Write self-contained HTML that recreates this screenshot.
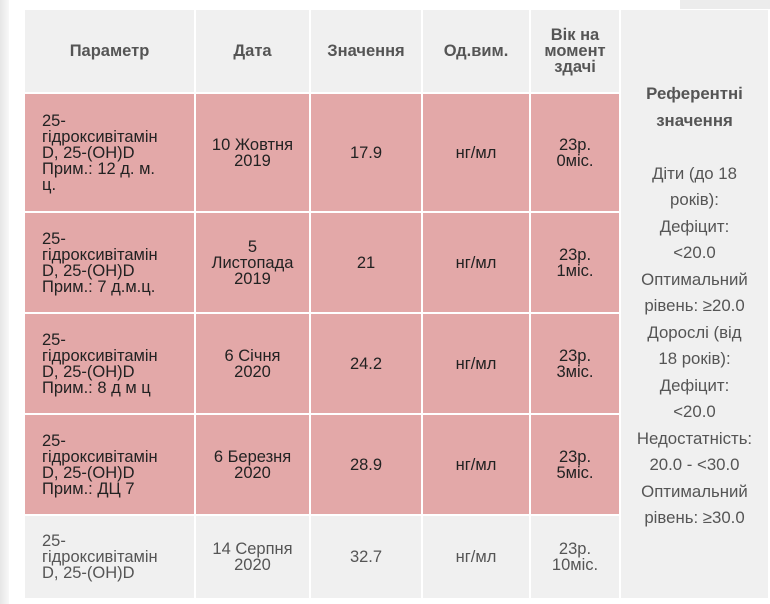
<!DOCTYPE html>
<html><head><meta charset="utf-8"><style>
*{margin:0;padding:0;box-sizing:border-box}
body{width:770px;height:604px;background:#fff;position:relative;overflow:hidden;font-family:"Liberation Sans",Arial,sans-serif}
.c{position:absolute;display:flex;align-items:center;justify-content:center;text-align:center;font-size:16.5px;line-height:16px;color:#222}
.h{background:#f0f0f0;color:#555;font-weight:bold}
.p{background:#e3a8a8}
.g{background:#f0f0f0;color:#555}
.l{justify-content:flex-start;text-align:left;padding-left:17px}
</style></head><body>
<div style="position:absolute;left:0;top:0;width:9px;height:604px;background:linear-gradient(90deg,#e6e6e6,#f8f8f8)"></div>
<div style="position:absolute;left:680px;top:0;width:90px;height:9px;background:#ececec"></div>

<div class="c h" style="left:25px;top:10px;width:169px;height:82px">Параметр</div>
<div class="c h" style="left:196px;top:10px;width:113px;height:82px">Дата</div>
<div class="c h" style="left:311px;top:10px;width:110px;height:82px">Значення</div>
<div class="c h" style="left:423px;top:10px;width:106px;height:82px">Од.вим.</div>
<div class="c h" style="left:531px;top:10px;width:88px;height:82px">Вік на<br>момент<br>здачі</div>
<div class="c g" style="left:621px;top:10px;width:147px;height:588px;font-size:16.8px;line-height:26.5px;color:#555;align-items:flex-start;padding-top:71px"><div><b>Референтні<br>значення</b><br><br>Діти (до 18<br>років):<br>Дефіцит:<br>&lt;20.0<br>Оптимальний<br>рівень: ≥20.0<br>Дорослі (від<br>18 років):<br>Дефіцит:<br>&lt;20.0<br>Недостатність:<br>20.0 - &lt;30.0<br>Оптимальний<br>рівень: ≥30.0</div></div>

<div class="c p l" style="left:25px;top:94px;width:169px;height:117px">25-<br>гідроксивітамін<br>D, 25-(OH)D<br>Прим.: 12 д. м.<br>ц.</div>
<div class="c p" style="left:196px;top:94px;width:113px;height:117px">10 Жовтня<br>2019</div>
<div class="c p" style="left:311px;top:94px;width:110px;height:117px">17.9</div>
<div class="c p" style="left:423px;top:94px;width:106px;height:117px">нг/мл</div>
<div class="c p" style="left:531px;top:94px;width:88px;height:117px">23р.<br>0міс.</div>

<div class="c p l" style="left:25px;top:213px;width:169px;height:99px">25-<br>гідроксивітамін<br>D, 25-(OH)D<br>Прим.: 7 д.м.ц.</div>
<div class="c p" style="left:196px;top:213px;width:113px;height:99px">5<br>Листопада<br>2019</div>
<div class="c p" style="left:311px;top:213px;width:110px;height:99px">21</div>
<div class="c p" style="left:423px;top:213px;width:106px;height:99px">нг/мл</div>
<div class="c p" style="left:531px;top:213px;width:88px;height:99px">23р.<br>1міс.</div>

<div class="c p l" style="left:25px;top:314px;width:169px;height:99px">25-<br>гідроксивітамін<br>D, 25-(OH)D<br>Прим.: 8 д м ц</div>
<div class="c p" style="left:196px;top:314px;width:113px;height:99px">6 Січня<br>2020</div>
<div class="c p" style="left:311px;top:314px;width:110px;height:99px">24.2</div>
<div class="c p" style="left:423px;top:314px;width:106px;height:99px">нг/мл</div>
<div class="c p" style="left:531px;top:314px;width:88px;height:99px">23р.<br>3міс.</div>

<div class="c p l" style="left:25px;top:415px;width:169px;height:99px">25-<br>гідроксивітамін<br>D, 25-(OH)D<br>Прим.: ДЦ 7</div>
<div class="c p" style="left:196px;top:415px;width:113px;height:99px">6 Березня<br>2020</div>
<div class="c p" style="left:311px;top:415px;width:110px;height:99px">28.9</div>
<div class="c p" style="left:423px;top:415px;width:106px;height:99px">нг/мл</div>
<div class="c p" style="left:531px;top:415px;width:88px;height:99px">23р.<br>5міс.</div>

<div class="c g l" style="left:25px;top:516px;width:169px;height:82px">25-<br>гідроксивітамін<br>D, 25-(OH)D</div>
<div class="c g" style="left:196px;top:516px;width:113px;height:82px">14 Серпня<br>2020</div>
<div class="c g" style="left:311px;top:516px;width:110px;height:82px">32.7</div>
<div class="c g" style="left:423px;top:516px;width:106px;height:82px">нг/мл</div>
<div class="c g" style="left:531px;top:516px;width:88px;height:82px">23р.<br>10міс.</div>
</body></html>
